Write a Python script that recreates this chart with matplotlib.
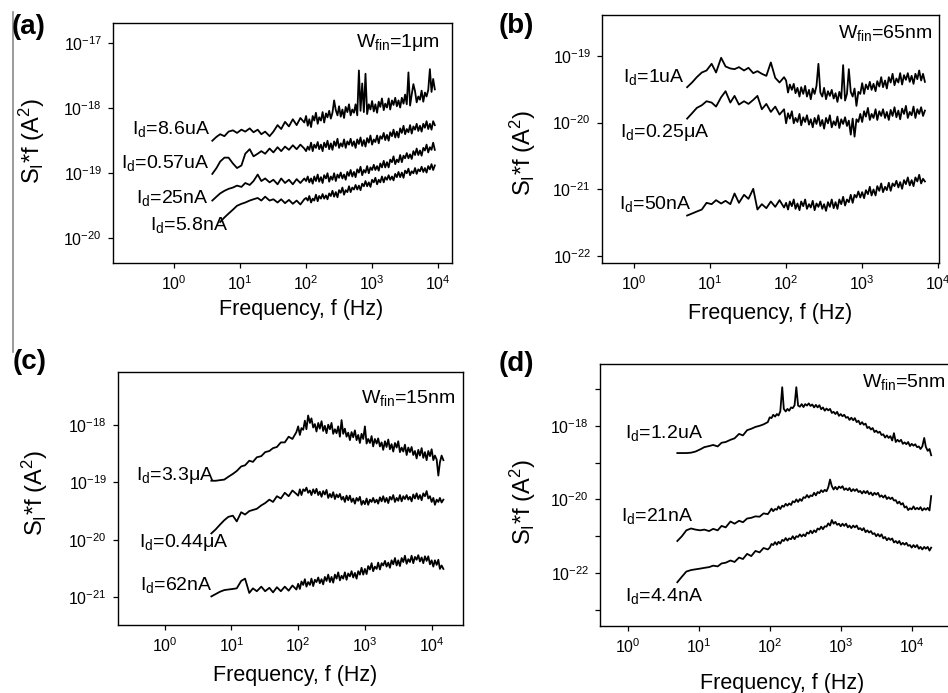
import numpy as np
import matplotlib
matplotlib.use("Agg")
import matplotlib.pyplot as plt
from matplotlib.ticker import FixedLocator, NullLocator, NullFormatter, LogFormatterSciNotation
from matplotlib.lines import Line2D

plt.rcParams['font.family'] = ['Liberation Sans', 'DejaVu Sans']
plt.rcParams['mathtext.fontset'] = 'custom'
plt.rcParams['mathtext.rm'] = 'Liberation Sans'
plt.rcParams['mathtext.it'] = 'Liberation Sans:italic'
plt.rcParams['mathtext.bf'] = 'Liberation Sans:bold'
plt.rcParams['axes.unicode_minus'] = False

# frequency points of the spectra (Hz), shared by all panels
freq = [3.8, 4.4, 5.0, 5.8, 6.7, 7.8, 9.0, 10.5, 12, 14,
        16, 18.5, 21, 24, 28, 32, 37, 42, 48, 55,
        63, 72, 82, 94,
        100, 106, 112, 119, 126, 133, 141, 150, 158, 168,
        178, 188, 200, 211, 224, 237, 251, 266, 282, 299,
        316, 335, 355, 376, 398, 422, 447, 473, 501, 531,
        562, 596, 631, 668, 708, 750, 794, 841, 891, 944,
        1000, 1060, 1120, 1190, 1260, 1330, 1410, 1500, 1580, 1680,
        1780, 1880, 2000, 2110, 2240, 2370, 2510, 2660, 2820, 2990,
        3160, 3350, 3550, 3760, 3980, 4220, 4470, 4730, 5010, 5310,
        5620, 5960, 6310, 6680, 7080, 7500, 7940, 8410, 8910, 9440,
        10000, 10600, 11200, 11900, 12600, 13300, 14100, 15000, 15800, 16800,
        17800, 18800, 20000]

# log10(S_I*f / A^2); each trace starts at freq[start]

# (a) W_fin = 1 um
a_86uA = [-18.50, -18.44, -18.40, -18.43, -18.36, -18.34, -18.38, -18.33, -18.36, -18.31,
          -18.37, -18.33, -18.40, -18.36, -18.43, -18.36, -18.26, -18.32, -18.21, -18.28,
          -18.17, -18.26, -18.15, -18.22,
          -18.12, -18.27, -18.17, -18.29, -18.12, -18.19, -18.07, -18.24, -18.14, -18.19,
          -18.06, -18.22, -18.08, -18.14, -18.04, -18.16, -18.07, -17.88, -18.03, -18.11,
          -17.97, -18.13, -18.02, -18.15, -17.98, -18.06, -17.94, -18.11, -18.02, -18.07,
          -17.94, -18.11, -17.42, -18.04, -17.62, -18.06, -17.47, -18.09, -17.94, -18.02,
          -17.89, -18.05, -17.94, -18.07, -17.90, -17.98, -17.85, -18.03, -17.93, -17.99,
          -17.85, -18.02, -17.88, -17.95, -17.84, -17.97, -17.88, -17.99, -17.84, -17.93,
          -17.79, -17.94, -17.45, -17.96, -17.79, -17.63, -17.74, -17.91, -17.82, -17.87,
          -17.73, -17.90, -17.76, -17.82, -17.72, -17.40, -17.75, -17.55, -17.71]
a_057uA = [-19.01, -18.92, -18.82, -18.76, -18.76, -18.85, -18.92, -18.88, -18.70, -18.63,
           -18.74, -18.70, -18.66, -18.70, -18.62, -18.68, -18.60, -18.66, -18.59, -18.64,
           -18.57, -18.63, -18.56, -18.62,
           -18.66, -18.59, -18.64, -18.53, -18.66, -18.56, -18.61, -18.52, -18.63, -18.56,
           -18.66, -18.53, -18.60, -18.50, -18.63, -18.54, -18.64, -18.51, -18.58, -18.47,
           -18.61, -18.54, -18.59, -18.48, -18.61, -18.51, -18.56, -18.47, -18.58, -18.51,
           -18.61, -18.48, -18.55, -18.45, -18.58, -18.49, -18.59, -18.46, -18.53, -18.42,
           -18.56, -18.48, -18.52, -18.42, -18.54, -18.43, -18.47, -18.38, -18.49, -18.41,
           -18.50, -18.37, -18.43, -18.33, -18.45, -18.36, -18.45, -18.31, -18.38, -18.27,
           -18.40, -18.32, -18.37, -18.26, -18.39, -18.28, -18.33, -18.24, -18.35, -18.27,
           -18.36, -18.24, -18.30, -18.20, -18.32, -18.24, -18.33, -18.20, -18.26]
a_25nA = [-19.42, -19.36, -19.31, -19.27, -19.24, -19.22, -19.19, -19.21, -19.15, -19.18,
          -19.12, -19.02, -19.12, -19.08, -19.14, -19.10, -19.17, -19.08, -19.15, -19.10,
          -19.17, -19.09, -19.15, -19.08,
          -19.12, -19.05, -19.14, -19.08, -19.16, -19.05, -19.12, -19.02, -19.13, -19.06,
          -19.15, -19.03, -19.08, -19.00, -19.13, -19.05, -19.10, -19.00, -19.12, -19.02,
          -19.07, -18.99, -19.08, -19.02, -19.10, -18.98, -19.04, -18.95, -19.05, -18.98,
          -19.06, -18.94, -18.99, -18.90, -19.03, -18.95, -18.99, -18.89, -19.00, -18.91,
          -18.95, -18.87, -18.95, -18.89, -18.96, -18.85, -18.91, -18.81, -18.91, -18.83,
          -18.91, -18.79, -18.83, -18.74, -18.86, -18.79, -18.83, -18.72, -18.83, -18.73,
          -18.77, -18.69, -18.77, -18.71, -18.78, -18.66, -18.72, -18.62, -18.72, -18.65,
          -18.73, -18.61, -18.65, -18.56, -18.68, -18.60, -18.64, -18.53, -18.64]
a_58nA = [-19.75, -19.68, -19.62, -19.56, -19.50, -19.47, -19.45, -19.42, -19.40, -19.38,
          -19.42, -19.36, -19.42, -19.40, -19.45, -19.40, -19.46, -19.41, -19.47, -19.42,
          -19.48, -19.40,
          -19.38, -19.42, -19.35, -19.45, -19.39, -19.42, -19.33, -19.43, -19.35, -19.39,
          -19.32, -19.39, -19.34, -19.40, -19.31, -19.35, -19.27, -19.36, -19.29, -19.37,
          -19.26, -19.30, -19.22, -19.33, -19.26, -19.29, -19.20, -19.29, -19.22, -19.25,
          -19.18, -19.25, -19.19, -19.26, -19.16, -19.20, -19.12, -19.20, -19.14, -19.21,
          -19.10, -19.14, -19.07, -19.17, -19.10, -19.14, -19.05, -19.14, -19.06, -19.10,
          -19.03, -19.10, -19.05, -19.11, -19.01, -19.06, -18.98, -19.06, -18.99, -19.07,
          -18.96, -19.00, -18.93, -19.03, -18.97, -19.00, -18.92, -19.01, -18.94, -18.97,
          -18.90, -18.98, -18.92, -18.99, -18.89, -18.94, -18.86, -18.95, -18.88]
a_traces = [a_86uA, a_057uA, a_25nA, a_58nA]
a_start = [0, 0, 0, 2]
a_labels = ['I$_\\mathregular{d}$=8.6uA', 'I$_\\mathregular{d}$=0.57uA',
            'I$_\\mathregular{d}$=25nA', 'I$_\\mathregular{d}$=5.8nA']
a_label_f = [3.5, 3.5, 3.3, 6.6]
a_label_s = [-18.39, -18.92, -19.45, -19.88]

# (b) W_fin = 65 nm
b_1uA = [-19.47, -19.40, -19.32, -19.25, -19.22, -19.12, -19.25, -19.03, -19.16, -19.19,
         -19.20, -19.17, -19.22, -19.18, -19.26, -19.23, -19.27, -19.30, -19.10, -19.33,
         -19.40, -19.32,
         -19.37, -19.55, -19.43, -19.51, -19.42, -19.56, -19.48, -19.61, -19.47, -19.57,
         -19.45, -19.61, -19.51, -19.65, -19.49, -19.57, -19.45, -19.12, -19.55, -19.61,
         -19.48, -19.65, -19.53, -19.60, -19.51, -19.64, -19.56, -19.69, -19.54, -19.64,
         -19.14, -19.67, -19.57, -19.20, -19.54, -19.61, -19.49, -19.75, -19.54, -19.57,
         -19.41, -19.57, -19.43, -19.50, -19.39, -19.51, -19.42, -19.53, -19.38, -19.46,
         -19.32, -19.47, -19.37, -19.49, -19.32, -19.40, -19.27, -19.44, -19.34, -19.40,
         -19.26, -19.43, -19.29, -19.36, -19.26, -19.39, -19.30, -19.42, -19.27, -19.35,
         -19.22, -19.37, -19.27, -19.39]
b_025uA = [-19.94, -19.86, -19.78, -19.74, -19.68, -19.70, -19.76, -19.62, -19.53, -19.70,
           -19.60, -19.73, -19.68, -19.72, -19.66, -19.60, -19.80, -19.72, -19.84, -19.76,
           -19.88, -19.80,
           -20.01, -19.86, -19.94, -19.83, -20.01, -19.93, -19.99, -19.87, -20.04, -19.92,
           -19.99, -19.89, -20.03, -19.95, -20.07, -19.93, -20.02, -19.89, -20.05, -19.96,
           -20.09, -19.93, -20.01, -19.89, -20.07, -19.98, -20.04, -19.91, -20.08, -19.95,
           -20.02, -19.92, -20.05, -19.97, -20.18, -19.94, -20.21, -19.95, -19.99, -19.87,
           -19.99, -19.83, -19.91, -19.78, -19.96, -19.87, -19.93, -19.80, -19.96, -19.83,
           -19.90, -19.80, -19.93, -19.84, -19.96, -19.81, -19.90, -19.77, -19.92, -19.82,
           -19.95, -19.79, -19.87, -19.75, -19.93, -19.84, -19.89, -19.76, -19.93, -19.80,
           -19.87, -19.77, -19.90, -19.82]
b_50nA = [-21.39, -21.36, -21.33, -21.30, -21.20, -21.22, -21.16, -21.21, -21.17, -21.22,
          -21.06, -21.20, -21.08, -21.14, -20.99, -21.30, -21.22, -21.28, -21.18, -21.26,
          -21.16, -21.27,
          -21.20, -21.30, -21.18, -21.25, -21.15, -21.29, -21.21, -21.31, -21.18, -21.25,
          -21.15, -21.29, -21.22, -21.27, -21.17, -21.31, -21.21, -21.26, -21.18, -21.29,
          -21.22, -21.32, -21.19, -21.26, -21.15, -21.28, -21.19, -21.29, -21.15, -21.22,
          -21.11, -21.24, -21.15, -21.19, -21.08, -21.20, -21.08, -21.12, -21.03, -21.12,
          -21.04, -21.13, -21.01, -21.07, -20.96, -21.09, -21.00, -21.09, -20.95, -21.02,
          -20.91, -21.04, -20.96, -21.01, -20.90, -21.02, -20.91, -20.95, -20.87, -20.97,
          -20.89, -20.99, -20.86, -20.92, -20.82, -20.94, -20.86, -20.95, -20.82, -20.88,
          -20.78, -20.91, -20.84, -20.88]
b_traces = [b_1uA, b_025uA, b_50nA]
b_start = [2, 2, 2]
b_labels = ['I$_\\mathregular{d}$=1uA', 'I$_\\mathregular{d}$=0.25\u03bcA',
            'I$_\\mathregular{d}$=50nA']
b_label_f = [4.6, 9.7, 5.7]
b_label_s = [-19.39, -20.21, -21.29]

# (c) W_fin = 15 nm
c_33uA = [-18.97, -18.97, -18.96, -18.95, -18.90, -18.85, -18.80, -18.72, -18.70, -18.62,
          -18.64, -18.56, -18.54, -18.47, -18.45, -18.40, -18.38, -18.30, -18.30, -18.20,
          -18.24, -18.12,
          -18.02, -18.17, -18.05, -18.08, -17.92, -18.07, -17.83, -17.96, -17.88, -18.04,
          -17.98, -18.11, -17.96, -18.06, -17.93, -18.10, -18.01, -18.14, -17.99, -18.07,
          -17.96, -18.15, -18.07, -18.14, -18.02, -18.20, -17.91, -18.15, -18.06, -18.20,
          -18.13, -18.26, -18.12, -18.21, -18.09, -18.26, -18.17, -18.31, -18.15, -18.24,
          -18.02, -18.32, -18.24, -18.31, -18.19, -18.37, -18.24, -18.32, -18.23, -18.37,
          -18.30, -18.43, -18.28, -18.38, -18.25, -18.42, -18.33, -18.46, -18.31, -18.39,
          -18.28, -18.47, -18.39, -18.46, -18.34, -18.52, -18.39, -18.47, -18.38, -18.52,
          -18.45, -18.58, -18.43, -18.53, -18.40, -18.57, -18.47, -18.61, -18.45, -18.54,
          -18.42, -18.61, -18.53, -18.60, -18.88, -18.65, -18.53, -18.61]
c_044uA = [-19.89, -19.82, -19.74, -19.66, -19.60, -19.58, -19.68, -19.52, -19.56, -19.50,
           -19.48, -19.46, -19.40, -19.36, -19.30, -19.34, -19.24, -19.28, -19.18, -19.24,
           -19.14, -19.20,
           -19.23, -19.12, -19.22, -19.12, -19.15, -19.09, -19.18, -19.14, -19.22, -19.12,
           -19.19, -19.11, -19.22, -19.16, -19.25, -19.15, -19.21, -19.13, -19.27, -19.20,
           -19.26, -19.17, -19.29, -19.21, -19.26, -19.20, -19.30, -19.25, -19.34, -19.23,
           -19.31, -19.23, -19.34, -19.28, -19.37, -19.27, -19.32, -19.25, -19.39, -19.32,
           -19.38, -19.28, -19.39, -19.30, -19.34, -19.27, -19.35, -19.30, -19.37, -19.26,
           -19.33, -19.24, -19.34, -19.27, -19.36, -19.25, -19.30, -19.22, -19.34, -19.27,
           -19.32, -19.22, -19.33, -19.24, -19.29, -19.22, -19.30, -19.25, -19.33, -19.21,
           -19.28, -19.19, -19.29, -19.22, -19.31, -19.19, -19.24, -19.15, -19.28, -19.24,
           -19.34, -19.27, -19.39, -19.30, -19.34, -19.27, -19.35, -19.30]
c_62nA = [-20.99, -20.95, -20.91, -20.88, -20.87, -20.86, -20.85, -20.72, -20.68, -20.93,
          -20.85, -20.90, -20.82, -20.90, -20.84, -20.92, -20.83, -20.90, -20.82, -20.89,
          -20.80, -20.87,
          -20.77, -20.86, -20.73, -20.79, -20.69, -20.82, -20.74, -20.79, -20.68, -20.81,
          -20.70, -20.74, -20.66, -20.76, -20.69, -20.78, -20.65, -20.72, -20.61, -20.74,
          -20.65, -20.75, -20.61, -20.68, -20.57, -20.71, -20.63, -20.68, -20.57, -20.70,
          -20.59, -20.64, -20.55, -20.66, -20.58, -20.68, -20.55, -20.61, -20.49, -20.61,
          -20.51, -20.60, -20.46, -20.52, -20.41, -20.55, -20.47, -20.51, -20.40, -20.52,
          -20.41, -20.45, -20.37, -20.47, -20.40, -20.49, -20.36, -20.43, -20.32, -20.45,
          -20.36, -20.46, -20.32, -20.39, -20.28, -20.42, -20.34, -20.39, -20.28, -20.41,
          -20.30, -20.35, -20.27, -20.38, -20.31, -20.41, -20.29, -20.37, -20.29, -20.43,
          -20.36, -20.47, -20.36, -20.44, -20.35, -20.51, -20.45, -20.51]
c_traces = [c_33uA, c_044uA, c_62nA]
c_start = [2, 2, 2]
c_labels = ['I$_\\mathregular{d}$=3.3\u03bcA', 'I$_\\mathregular{d}$=0.44\u03bcA',
            'I$_\\mathregular{d}$=62nA']
c_label_f = [5.6, 8.9, 5.3]
c_label_s = [-18.96, -20.12, -20.88]

# (d) W_fin = 5 nm
d_12uA = [-18.74, -18.74, -18.74, -18.73, -18.70, -18.64, -18.58, -18.55, -18.52, -18.56,
          -18.46, -18.44, -18.38, -18.34, -18.22, -18.26, -18.12, -18.08, -18.03, -18.00,
          -17.96, -17.90,
          -17.77, -17.79, -17.70, -17.75, -17.68, -17.72, -17.61, -16.95, -17.54, -17.61,
          -17.54, -17.59, -17.50, -17.52, -17.44, -16.95, -17.45, -17.48, -17.41, -17.49,
          -17.41, -17.45, -17.39, -17.46, -17.42, -17.50, -17.43, -17.50, -17.44, -17.55,
          -17.50, -17.59, -17.53, -17.58, -17.54, -17.65, -17.62, -17.68, -17.62, -17.73,
          -17.68, -17.74, -17.70, -17.78, -17.76, -17.84, -17.78, -17.85, -17.79, -17.90,
          -17.86, -17.96, -17.90, -17.97, -17.94, -18.06, -18.03, -18.10, -18.06, -18.17,
          -18.13, -18.19, -18.16, -18.25, -18.23, -18.32, -18.26, -18.33, -18.28, -18.40,
          -18.20, -18.44, -18.38, -18.43, -18.38, -18.49, -18.45, -18.50, -18.44, -18.55,
          -18.49, -18.54, -18.50, -18.58, -18.56, -18.63, -18.56, -18.33, -18.57, -18.68,
          -18.63, -18.80]
d_21nA = [-21.13, -21.00, -20.84, -20.79, -20.82, -20.84, -20.82, -20.86, -20.80, -20.84,
          -20.72, -20.76, -20.60, -20.66, -20.58, -20.62, -20.52, -20.50, -20.46, -20.47,
          -20.38, -20.40,
          -20.33, -20.25, -20.32, -20.26, -20.28, -20.19, -20.26, -20.17, -20.20, -20.12,
          -20.17, -20.11, -20.15, -20.05, -20.08, -20.00, -20.07, -19.99, -20.04, -19.94,
          -19.96, -19.88, -19.95, -19.89, -19.91, -19.82, -19.89, -19.80, -19.83, -19.75,
          -19.80, -19.74, -19.78, -19.67, -19.46, -19.64, -19.73, -19.66, -19.73, -19.65,
          -19.69, -19.64, -19.74, -19.70, -19.75, -19.69, -19.78, -19.72, -19.77, -19.72,
          -19.80, -19.77, -19.84, -19.77, -19.83, -19.77, -19.86, -19.81, -19.89, -19.82,
          -19.87, -19.82, -19.93, -19.89, -19.95, -19.89, -19.99, -19.94, -19.99, -19.95,
          -20.03, -20.02, -20.11, -20.06, -20.14, -20.10, -20.22, -20.19, -20.29, -20.24,
          -20.27, -20.19, -20.27, -20.23, -20.27, -20.21, -20.30, -20.24, -20.28, -20.23,
          -20.30, -19.91]
d_44nA = [-22.25, -22.10, -21.96, -21.92, -21.90, -21.88, -21.86, -21.84, -21.80, -21.82,
          -21.74, -21.72, -21.66, -21.70, -21.58, -21.62, -21.48, -21.54, -21.40, -21.44,
          -21.32, -21.36,
          -21.31, -21.21, -21.24, -21.16, -21.23, -21.15, -21.20, -21.10, -21.13, -21.05,
          -21.12, -21.06, -21.08, -21.00, -21.08, -21.00, -21.02, -20.95, -21.01, -20.95,
          -21.00, -20.90, -20.93, -20.85, -20.92, -20.84, -20.89, -20.79, -20.82, -20.74,
          -20.81, -20.73, -20.74, -20.65, -20.71, -20.56, -20.66, -20.61, -20.69, -20.66,
          -20.73, -20.66, -20.72, -20.66, -20.76, -20.71, -20.78, -20.71, -20.76, -20.71,
          -20.81, -20.78, -20.84, -20.78, -20.89, -20.84, -20.90, -20.86, -20.94, -20.92,
          -21.00, -20.94, -21.01, -20.95, -21.06, -21.02, -21.11, -21.05, -21.10, -21.06,
          -21.17, -21.13, -21.19, -21.13, -21.23, -21.18, -21.23, -21.18, -21.26, -21.24,
          -21.31, -21.24, -21.30, -21.24, -21.34, -21.29, -21.36, -21.29, -21.34, -21.29,
          -21.39, -21.31]
d_traces = [d_12uA, d_21nA, d_44nA]
d_start = [2, 2, 2]
d_labels = ['I$_\\mathregular{d}$=1.2uA', 'I$_\\mathregular{d}$=21nA',
            'I$_\\mathregular{d}$=4.4nA']
d_label_f = [11.6, 8.6, 11.6]
d_label_s = [-18.33, -20.59, -22.75]

xticks = [1, 10, 100, 1e3, 1e4]

W, H = 948, 693
fig = plt.figure(figsize=(W / 100, H / 100), dpi=100)


def rect(left, top, right, bottom):
    return [left / W, 1 - bottom / H, (right - left) / W, (bottom - top) / H]


def panel(box, traces, starts, labels, lab_f, lab_s, wfin, wfin_xy,
          xlim, ylim, ymajor, yminor, xlab_xy, ylab_xy, tag, tag_xy):
    ax = fig.add_axes(box)
    ax.set_xscale('log')
    ax.set_yscale('log')
    for s, i0 in zip(traces, starts):
        ax.plot(freq[i0:i0 + len(s)], 10.0 ** np.array(s), color='black', lw=1.3)
    for t, xf, ys in zip(labels, lab_f, lab_s):
        ax.text(xf, 10.0 ** ys, t, ha='right', va='baseline', fontsize=14)
    ax.text(wfin_xy[0], wfin_xy[1], wfin, transform=ax.transAxes,
            ha='right', va='baseline', fontsize=14)
    ax.set_xlim(*xlim)
    ax.set_ylim(*ylim)
    ax.xaxis.set_major_locator(FixedLocator(xticks))
    ax.xaxis.set_minor_locator(NullLocator())
    ax.xaxis.set_major_formatter(LogFormatterSciNotation())
    ax.yaxis.set_major_locator(FixedLocator(ymajor))
    ax.yaxis.set_minor_locator(FixedLocator(yminor) if yminor else NullLocator())
    ax.yaxis.set_major_formatter(LogFormatterSciNotation())
    ax.yaxis.set_minor_formatter(NullFormatter())
    ax.tick_params(which='both', direction='out', length=3.5, width=0.9,
                   labelsize=11.5, pad=4.5)
    for sp in ax.spines.values():
        sp.set_linewidth(1.0)
    ax.set_xlabel('Frequency, f (Hz)', fontsize=15.5)
    ax.xaxis.set_label_coords(*xlab_xy)
    ax.set_ylabel('S$_\\mathregular{I}$*f (A$^\\mathregular{2}$)', fontsize=17)
    ax.yaxis.set_label_coords(*ylab_xy)
    fig.text(tag_xy[0] / W, 1 - tag_xy[1] / H, tag, fontsize=20,
             fontweight='bold', va='baseline')
    return ax


panel(rect(113, 23, 452, 263), a_traces, a_start,
      a_labels, a_label_f, a_label_s, 'W$_\\mathregular{fin}$=1\u03bcm', (0.965, 0.90),
      (10 ** -0.924, 10 ** 4.21), (10 ** -20.38, 10 ** -16.69),
      [1e-20, 1e-19, 1e-18, 1e-17], None, (0.555, -0.15), (-0.195, 0.508),
      '(a)', (12, 34))

panel(rect(602, 15, 939, 263), b_traces, b_start,
      b_labels, b_label_f, b_label_s, 'W$_\\mathregular{fin}$=65nm', (0.979, 0.907),
      (10 ** -0.42, 10 ** 4.01), (10 ** -22.1, 10 ** -18.39),
      [1e-22, 1e-21, 1e-20, 1e-19], None, (0.50, -0.16), (-0.19, 0.444),
      '(b)', (499, 33))

panel(rect(118, 372, 463, 625), c_traces, c_start,
      c_labels, c_label_f, c_label_s, 'W$_\\mathregular{fin}$=15nm', (0.977, 0.877),
      (10 ** -0.70, 10 ** 4.47), (10 ** -21.49, 10 ** -17.07),
      [1e-21, 1e-20, 1e-19, 1e-18], None, (0.513, -0.158), (-0.197, 0.52),
      '(c)', (13, 369))

panel(rect(600, 364, 960, 626), d_traces, d_start,
      d_labels, d_label_f, d_label_s, 'W$_\\mathregular{fin}$=5nm', (0.961, 0.912),
      (10 ** -0.39, 10 ** 4.68), (10 ** -23.44, 10 ** -16.32),
      [1e-22, 1e-20, 1e-18], [1e-23, 1e-21, 1e-19, 1e-17], (0.506, -0.18), (-0.172, 0.473),
      '(d)', (499, 371))

# thin rule running down the left margin
fig.add_artist(Line2D([13 / W, 13 / W], [1 - 12 / H, 1 - 352 / H],
                      color='#8a8a8a', lw=1.2))

fig.savefig('out.png', dpi=100)
